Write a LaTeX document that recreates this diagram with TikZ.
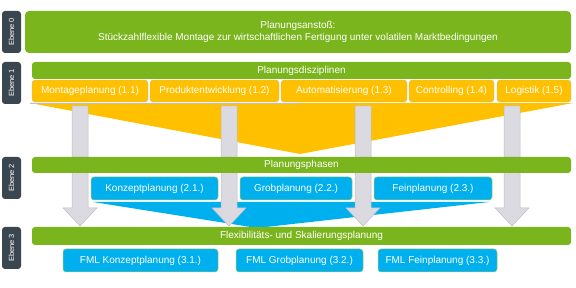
\documentclass[tikz,border=0pt]{standalone}
\usepackage{fontspec}
\setmainfont{Liberation Sans}
\definecolor{cgreen}{HTML}{7AB51D}
\definecolor{corange}{HTML}{FFC000}
\definecolor{cblue}{HTML}{00B0EE}
\definecolor{cdark}{HTML}{3A4750}
\definecolor{cgray}{HTML}{DADAE0}
\definecolor{cgrayline}{HTML}{BDBDC6}
\begin{document}
\begin{tikzpicture}[x=1pt,y=-1pt,
  every node/.style={inner sep=0pt,outer sep=0pt,text=white,font=\fontsize{10}{12}\selectfont},
  lvl/.style={fill=cdark,rounded corners=3pt,minimum width=42pt,minimum height=19pt,rotate=90,font=\fontsize{7.5}{9}\selectfont},
  gbar/.style={fill=cgreen,rounded corners=3pt,minimum height=17pt},
  obox/.style={fill=corange,draw=black!25,line width=0.4pt,rounded corners=3pt,minimum height=22pt},
  bbox/.style={fill=cblue,draw=cgreen!70,line width=0.5pt,rounded corners=3pt,minimum height=23pt},
  garrow/.style={fill=cgray,draw=cgrayline,line width=0.5pt}
]
\useasboundingbox (0,0) rectangle (576,288);
% wedges
\fill[corange] (30,103) -- (573,103) -- (300,154) -- cycle;
\draw[black!25,line width=0.6pt] (30,103) -- (300,103);
\fill[cblue] (93,202) -- (489,202) -- (257,228) -- cycle;
% gray block arrows
\foreach \cx in {80,229,363,512}{
  \draw[garrow] (\cx-8,106) -- (\cx+8,106) -- (\cx+8,208) -- (\cx+17,208) -- (\cx,226) -- (\cx-17,208) -- (\cx-8,208) -- cycle;
}
% level labels
\node[lvl] (e0) at (11.5,32) {Ebene 0};
\node[lvl] (e1) at (11.5,83) {Ebene 1};
\node[lvl] (e2) at (11.5,178) {Ebene 2};
\node[lvl] (e3) at (11.5,248) {Ebene 3};
% level 0
\node[fill=cgreen,rounded corners=4pt,minimum width=546pt,minimum height=42pt,align=center] (top) at (298,32)
  {Planungsanstoß:\\Stückzahlflexible Montage zur wirtschaftlichen Fertigung unter volatilen Marktbedingungen};
% level 1
\node[gbar,minimum width=539pt] (b1) at (301.5,70.5) {Planungsdisziplinen};
\node[obox,minimum width=116pt] (o1) at (90,91) {Montageplanung (1.1)};
\node[obox,minimum width=129pt] (o2) at (214.5,91) {Produktentwicklung (1.2)};
\node[obox,minimum width=126pt] (o3) at (344,91) {Automatisierung (1.3)};
\node[obox,minimum width=85pt] (o4) at (451.5,91) {Controlling (1.4)};
\node[obox,minimum width=74pt] (o5) at (534,91) {Logistik (1.5)};
% level 2
\node[gbar,minimum width=539pt,minimum height=16pt] (b2) at (301.5,165) {Planungsphasen};
\node[bbox,minimum width=127pt] (p1) at (154.5,188.5) {Konzeptplanung (2.1.)};
\node[bbox,minimum width=112pt] (p2) at (296,188.5) {Grobplanung (2.2.)};
\node[bbox,minimum width=118pt] (p3) at (433,188.5) {Feinplanung (2.3.)};
% level 3
\node[gbar,minimum width=539pt,minimum height=18pt] (b3) at (301.5,236) {Flexibilitäts- und Skalierungsplanung};
\node[bbox,minimum width=155pt] (f1) at (140.5,260.5) {FML Konzeptplanung (3.1.)};
\node[bbox,minimum width=127pt] (f2) at (299.5,260.5) {FML Grobplanung (3.2.)};
\node[bbox,minimum width=119pt] (f3) at (437.5,260.5) {FML Feinplanung (3.3.)};
\end{tikzpicture}
\end{document}
